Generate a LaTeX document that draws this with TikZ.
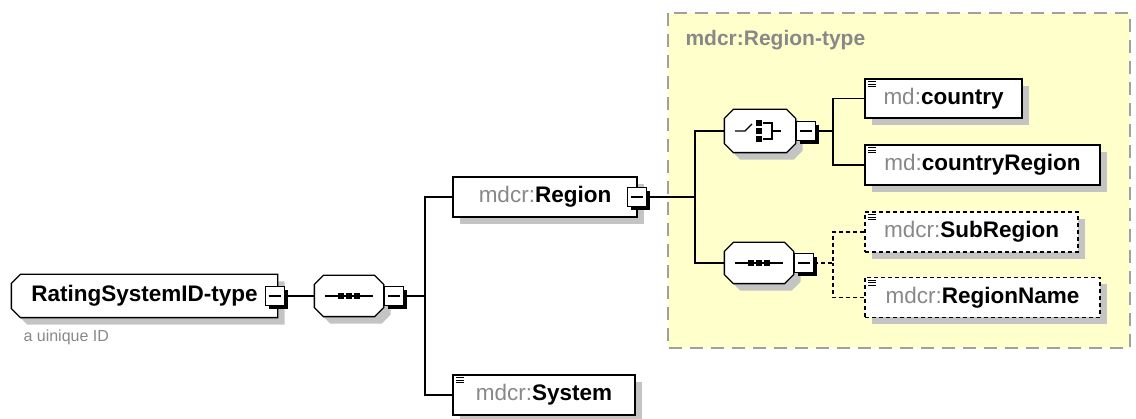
\documentclass[tikz,border=0pt]{standalone}
\usepackage{fontspec}
\setmainfont{Liberation Sans}
\usetikzlibrary{positioning,shadows}
\definecolor{typefill}{RGB}{255,255,204}
\definecolor{typeline}{RGB}{160,160,160}
\definecolor{prefgray}{RGB}{136,136,136}
\definecolor{shadowgray}{RGB}{196,196,196}
% box with cut corners (left and right cut given apart)
\pgfkeys{/pgf/cut left/.initial=0pt,/pgf/cut right/.initial=0pt}
\makeatletter
\pgfdeclareshape{cutbox}{%
  \inheritsavedanchors[from=rectangle]
  \inheritanchorborder[from=rectangle]
  \inheritanchor[from=rectangle]{center}
  \inheritanchor[from=rectangle]{north}
  \inheritanchor[from=rectangle]{south}
  \inheritanchor[from=rectangle]{east}
  \inheritanchor[from=rectangle]{west}
  \inheritanchor[from=rectangle]{north east}
  \inheritanchor[from=rectangle]{north west}
  \inheritanchor[from=rectangle]{south east}
  \inheritanchor[from=rectangle]{south west}
  \inheritanchor[from=rectangle]{mid}
  \inheritanchor[from=rectangle]{base}
  \inheritanchor[from=rectangle]{text}
  \backgroundpath{%
    \pgfmathsetlength\pgf@xc{\pgfkeysvalueof{/pgf/cut left}}%
    \pgfmathsetlength\pgf@yc{\pgfkeysvalueof{/pgf/cut right}}%
    \southwest \pgf@xa=\pgf@x \pgf@ya=\pgf@y
    \northeast \pgf@xb=\pgf@x \pgf@yb=\pgf@y
    \pgfpathmoveto{\pgfqpoint{\dimexpr\pgf@xa+\pgf@xc\relax}{\pgf@yb}}%
    \pgfpathlineto{\pgfqpoint{\dimexpr\pgf@xb-\pgf@yc\relax}{\pgf@yb}}%
    \pgfpathlineto{\pgfqpoint{\pgf@xb}{\dimexpr\pgf@yb-\pgf@yc\relax}}%
    \pgfpathlineto{\pgfqpoint{\pgf@xb}{\dimexpr\pgf@ya+\pgf@yc\relax}}%
    \pgfpathlineto{\pgfqpoint{\dimexpr\pgf@xb-\pgf@yc\relax}{\pgf@ya}}%
    \pgfpathlineto{\pgfqpoint{\dimexpr\pgf@xa+\pgf@xc\relax}{\pgf@ya}}%
    \pgfpathlineto{\pgfqpoint{\pgf@xa}{\dimexpr\pgf@ya+\pgf@xc\relax}}%
    \pgfpathlineto{\pgfqpoint{\pgf@xa}{\dimexpr\pgf@yb-\pgf@xc\relax}}%
    \pgfpathclose}%
}
\makeatother
\newcommand{\pfx}[1]{\textcolor{prefgray}{#1:}}
\newcommand{\seqicon}[1]{%
  \draw[link] ([xshift=-24pt]#1.center) -- ([xshift=24pt]#1.center);
  \foreach \d in {-8,0,8}
    \fill ([xshift=\d pt]#1.center) +(-2.8pt,-2.8pt) rectangle +(2.8pt,2.8pt);}
\newcommand{\choiceicon}[1]{%
  \draw[link] ([xshift=-25pt]#1.center) -- ++(10pt,0pt) -- ++(7pt,7pt);
  \foreach \d in {-8,0,8}
    \fill ([shift={(-1pt,\d pt)}]#1.center) +(-2.6pt,-2.6pt) rectangle +(2.6pt,2.6pt);
  \draw[link] ([shift={(3pt,8pt)}]#1.center) -- ++(9pt,0pt) -- ++(0pt,-16pt) -- ++(-9pt,0pt);
  \draw[link] ([xshift=12pt]#1.center) -- ++(9pt,0pt);}
\tikzset{shade/.style={drop shadow={shadow xshift=7pt,shadow yshift=-7pt,fill=shadowgray,opacity=1}},
	 link/.style={line width=1.3pt},
	 optdash/.style={dash pattern=on 4pt off 3pt},
	 elem/.style={rectangle,draw,fill=white,line width=1.3pt,minimum height=40pt,inner sep=0pt,
	   shade,font=\fontsize{22.5}{26}\selectfont},
	 simple/.style={elem,path picture={
	   \foreach \k in {3,5.5,8}
	     \draw[line width=1pt,solid] ([shift={(3pt,-\k pt)}]path picture bounding box.north west) -- ++(8pt,0pt);}},
	 optsimple/.style={simple,optdash},
	 ctype/.style={shape=cutbox,cut left=9pt,draw,fill=white,line width=1.3pt,minimum height=42pt,
	   inner sep=0pt,shade,font=\bfseries\fontsize{22.5}{26}\selectfont},
	 comp/.style={shape=cutbox,cut left=9pt,cut right=9pt,draw,fill=white,line width=1.3pt,
	   minimum width=68pt,minimum height=40pt,inner sep=0pt,shade},
	 minus/.style={rectangle,draw,fill=white,line width=1.3pt,minimum size=19pt,inner sep=0pt,
	   drop shadow={shadow xshift=3.5pt,shadow yshift=-3.5pt,fill=black,opacity=1},
	   path picture={\draw[line width=1.3pt,solid] ([xshift=3.5pt]path picture bounding box.west)
	     -- ([xshift=-3.5pt]path picture bounding box.east);}}
	 }

\begin{document}
\begin{tikzpicture}[x=1pt,y=-1pt]
	\useasboundingbox (0,0) rectangle (1136,419);
	% complex type mdcr:Region-type
	\draw[typeline,fill=typefill,line width=1.5pt,dash pattern=on 13pt off 8pt] (668,13) rectangle (1130,348);
	\node[anchor=west,text=prefgray,font=\bfseries\fontsize{21}{24}\selectfont] (rtitle) at (682,40) {mdcr:Region-type};

	\node[ctype,minimum width=265pt] (main) at (144.5,296) {RatingSystemID-type};
	\node[minus] (mainm) at ([xshift=-3pt]main.east) {};
	\node[anchor=west,text=prefgray,font=\fontsize{16}{19}\selectfont] (desc) at (20,337) {a uinique ID};

	\node[comp] (seqa) at (349,296) {};
	\seqicon{seqa}
	\node[minus] (seqam) [right=0pt of seqa] {};
	\coordinate (fork1) at (425,296);

	\node[elem,minimum width=184pt] (region) at (545,197) {\pfx{mdcr}\textbf{Region}};
	\node[minus] (regionm) at ([xshift=-1pt]region.east) {};
	\node[simple,minimum width=182pt] (system) at (544,395) {\pfx{mdcr}\textbf{System}};
	\coordinate (fork2) at (695,197);

	\node[comp,minimum width=70pt,minimum height=42pt] (choice) at (760,131) {};
	\choiceicon{choice}
	\node[minus] (choicem) [right=0pt of choice] {};
	\node[comp] (seqb) at (759,263) {};
	\seqicon{seqb}
	\node[minus] (seqbm) [right=0pt of seqb] {};
	\coordinate (fork3) at (833,131);
	\coordinate (fork4) at (833,263);

	\node[simple,minimum width=157pt,minimum height=39pt] (country) at (943.5,98.5) {\pfx{md}\textbf{country}};
	\node[simple,minimum width=235pt] (cregion) at (982.5,165) {\pfx{md}\textbf{countryRegion}};
	\node[optsimple,minimum width=213pt] (subregion) at (971.5,232) {\pfx{mdcr}\textbf{SubRegion}};
	\node[optsimple,minimum width=235pt] (regname) at (982.5,297.5) {\pfx{mdcr}\textbf{RegionName}};

	\draw[link] (mainm) -- (seqa);
	\draw[link] (seqam) -- (fork1);
	\draw[link] (region) -| (fork1);
	\draw[link] (system) -| (fork1);
	\draw[link] (regionm) -- (fork2);
	\draw[link] (choice) -| (fork2);
	\draw[link] (seqb) -| (fork2);
	\draw[link] (choicem) -- (fork3);
	\draw[link] (country) -| (fork3);
	\draw[link] (cregion) -| (fork3);
	\draw[link,optdash] (seqbm) -- (fork4);
	\draw[link,optdash] (subregion) -| (fork4);
	\draw[link,optdash] (regname) -| (fork4);
\end{tikzpicture}
\end{document}
